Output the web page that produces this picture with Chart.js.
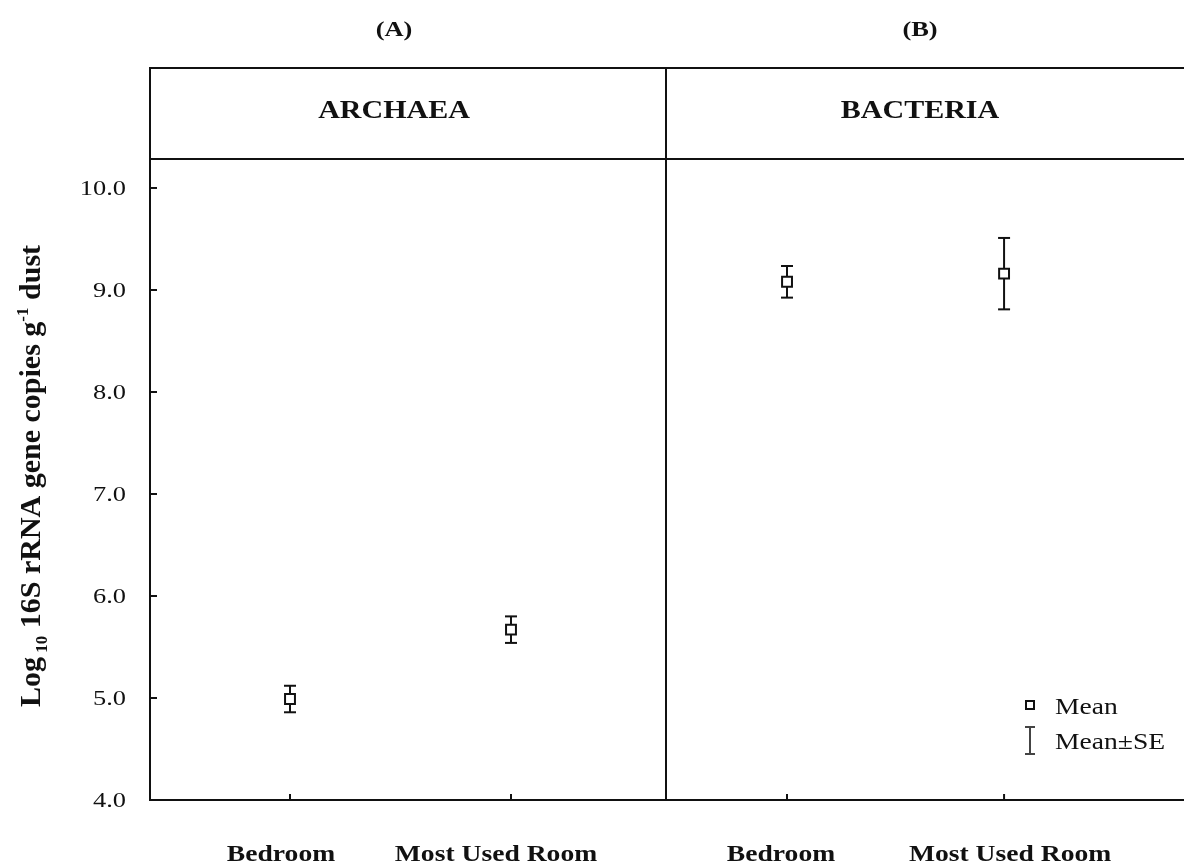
<!DOCTYPE html>
<html>
<head>
<meta charset="utf-8">
<script src="https://cdn.jsdelivr.net/npm/chart.js@4.4.1/dist/chart.umd.min.js"></script>
<style>
  html, body { margin: 0; padding: 0; background: #fff; }
  #wrap { position: relative; width: 1184px; height: 865px; overflow: hidden; }
  canvas { position: absolute; top: 0; }
  #cA { left: 0; }
  #cB { left: 666px; }
</style>
</head>
<body>
<div id="wrap">
  <canvas id="cA" width="668" height="865"></canvas>
  <canvas id="cB" width="518" height="865"></canvas>
</div>
<script>
// ---- data ----
const categories = ['Bedroom', 'Most Used Room'];
const panelLetters = ['(A)', '(B)'];
const panelNames = ['ARCHAEA', 'BACTERIA'];
const archaeaMean = [4.99, 5.67];
const archaeaSE = [0.13, 0.13];
const bacteriaMean = [9.08, 9.16];
const bacteriaSE = [0.155, 0.35];
const yTicks = [4, 5, 6, 7, 8, 9, 10];
const legendLabels = ['Mean', 'Mean\u00B1SE'];
const yTitleRuns = [
  { text: 'Log', kind: 'normal' },
  { text: ' 10', kind: 'sub' },
  { text: ' 16S rRNA gene copies g', kind: 'normal' },
  { text: '-1', kind: 'sup' },
  { text: ' dust', kind: 'normal' }
];

// ---- styling ----
const INK = '#111';
const SERIF = '"Liberation Serif", "Times New Roman", serif';
const STRETCH = 1.2;          // wide lettering of the horizontal labels
const HEADER_TOP = 68;        // top edge of the strip holding the panel names

function wideText(ctx, str, x, y, font, align) {
  ctx.save();
  ctx.font = font;
  ctx.fillStyle = INK;
  ctx.textAlign = align;
  ctx.textBaseline = 'alphabetic';
  ctx.translate(x, y);
  ctx.scale(STRETCH, 1);
  ctx.fillText(str, 0, 0);
  ctx.restore();
}

function line(ctx, x1, y1, x2, y2, w, color) {
  ctx.save();
  ctx.strokeStyle = color || INK;
  ctx.lineWidth = w || 2;
  ctx.beginPath();
  ctx.moveTo(x1, y1);
  ctx.lineTo(x2, y2);
  ctx.stroke();
  ctx.restore();
}

function errorBar(ctx, x, yTop, yBot, half, color) {
  line(ctx, x, yTop, x, yBot, 2, color);
  line(ctx, x - half, yTop, x + half, yTop, 2, color);
  line(ctx, x - half, yBot, x + half, yBot, 2, color);
}

const panelPlugin = {
  id: 'panelPlugin',
  beforeDatasetsDraw(chart) {
    // mean ± SE whiskers, drawn under the markers
    const ctx = chart.ctx;
    const xs = chart.scales.x, ys = chart.scales.y;
    chart.data.datasets.forEach(ds => {
      ds.data.forEach((p, i) => {
        const se = ds.se[i];
        errorBar(ctx, xs.getPixelForValue(p.x),
          ys.getPixelForValue(p.y + se), ys.getPixelForValue(p.y - se), 6);
      });
    });
  },
  afterDraw(chart, args, opts) {
    const ctx = chart.ctx;
    const a = chart.chartArea;
    const xs = chart.scales.x, ys = chart.scales.y;

    // frame and header strip
    line(ctx, a.left - (opts.leftEdge ? 1 : 0), HEADER_TOP, a.right + (opts.rightEdge ? 1 : 0), HEADER_TOP);
    line(ctx, a.left, a.top, a.right, a.top);
    line(ctx, a.left - (opts.leftEdge ? 1 : 0), a.bottom, a.right + (opts.rightEdge ? 1 : 0), a.bottom);
    if (opts.leftEdge) line(ctx, a.left, HEADER_TOP, a.left, a.bottom);
    if (opts.rightEdge) line(ctx, a.right, HEADER_TOP, a.right, a.bottom);

    // panel letter and organism name
    const cx = (a.left + a.right) / 2 + opts.titleShift;
    wideText(ctx, opts.letter, cx, 36, 'bold 22px ' + SERIF, 'center');
    wideText(ctx, opts.name, cx, 118, 'bold 25px ' + SERIF, 'center');

    // x ticks (inward) and category labels
    xs.ticks.forEach((t, i) => {
      const px = xs.getPixelForValue(t.value);
      line(ctx, px, a.bottom, px, a.bottom - 6);
      wideText(ctx, categories[t.value], px + opts.labelShift[i], 861, 'bold 23px ' + SERIF, 'center');
    });

    if (opts.showY) {
      // y ticks (inward) and labels
      ys.ticks.forEach(t => {
        const py = ys.getPixelForValue(t.value);
        line(ctx, a.left, py, a.left + 7, py);
        wideText(ctx, t.value.toFixed(1), 126, py + 7, '22px ' + SERIF, 'right');
      });
      // rotated y-axis title with subscript and superscript
      ctx.save();
      ctx.translate(40, 476);
      ctx.rotate(-Math.PI / 2);
      ctx.fillStyle = INK;
      ctx.textBaseline = 'alphabetic';
      ctx.textAlign = 'left';
      const big = 'bold 30px ' + SERIF, small = 'bold 17px ' + SERIF;
      let total = 0;
      yTitleRuns.forEach(r => { ctx.font = r.kind === 'normal' ? big : small; total += ctx.measureText(r.text).width; });
      let cur = -total / 2;
      yTitleRuns.forEach(r => {
        ctx.font = r.kind === 'normal' ? big : small;
        const dy = r.kind === 'sub' ? 7 : (r.kind === 'sup' ? -12 : 0);
        ctx.fillText(r.text, cur, dy);
        cur += ctx.measureText(r.text).width;
      });
      ctx.restore();
    }

    if (opts.legend) {
      const lx = a.right - 154;
      // mean marker sample
      ctx.save();
      ctx.fillStyle = '#fff';
      ctx.strokeStyle = INK;
      ctx.lineWidth = 2;
      ctx.fillRect(lx - 4, 701, 8, 8);
      ctx.strokeRect(lx - 4, 701, 8, 8);
      ctx.restore();
      wideText(ctx, legendLabels[0], lx + 25, 714, '23px ' + SERIF, 'left');
      // whisker sample
      errorBar(ctx, lx, 727, 754, 5, '#444');
      wideText(ctx, legendLabels[1], lx + 25, 749, '23px ' + SERIF, 'left');
    }
  }
};

function makePanel(canvasId, cfg) {
  return new Chart(document.getElementById(canvasId), {
    type: 'scatter',
    data: {
      datasets: [{
        data: cfg.mean.map((m, i) => ({ x: i, y: m })),
        se: cfg.se,
        pointStyle: 'rect',
        pointRadius: 7,
        pointHoverRadius: 7,
        backgroundColor: '#fff',
        borderColor: INK,
        borderWidth: 2,
        hoverBorderWidth: 2
      }]
    },
    options: {
      responsive: false,
      animation: false,
      devicePixelRatio: 1,
      events: [],
      layout: { autoPadding: false, padding: { top: 159, right: cfg.padRight, left: 0, bottom: 0 } },
      plugins: {
        legend: { display: false },
        tooltip: { enabled: false },
        panelPlugin: cfg
      },
      scales: {
        x: {
          type: 'linear',
          min: cfg.xMin,
          max: cfg.xMax,
          afterBuildTicks: s => { s.ticks = categories.map((c, i) => ({ value: i })); },
          afterFit: s => { s.height = 65; },
          grid: { display: false },
          border: { display: false },
          ticks: { display: false }
        },
        y: {
          type: 'linear',
          display: cfg.showY,
          min: 4,
          max: 10.284,
          afterBuildTicks: s => { s.ticks = yTicks.map(v => ({ value: v })); },
          afterFit: s => { s.width = cfg.showY ? 150 : 0; },
          grid: { display: false },
          border: { display: false },
          ticks: { display: false }
        }
      }
    },
    plugins: [panelPlugin]
  });
}

makePanel('cA', {
  letter: panelLetters[0], name: panelNames[0],
  mean: archaeaMean, se: archaeaSE,
  showY: true, xMin: -0.6335, xMax: 1.7014, padRight: 2,
  titleShift: -14, labelShift: [-9, -15],
  leftEdge: true, rightEdge: true, legend: false
});
makePanel('cB', {
  letter: panelLetters[1], name: panelNames[1],
  mean: bacteriaMean, se: bacteriaSE,
  showY: false, xMin: -0.5576, xMax: 1.829, padRight: 0,
  titleShift: -5, labelShift: [-6, 6],
  leftEdge: false, rightEdge: false, legend: true
});
</script>
</body>
</html>
